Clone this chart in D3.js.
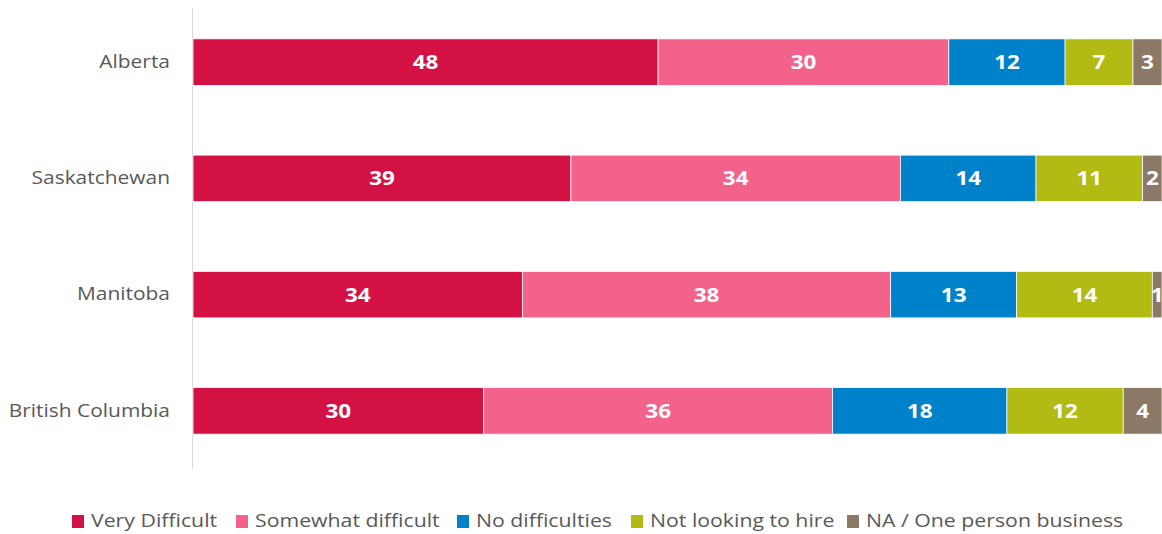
<!DOCTYPE html>
<html>
<head>
<meta charset="utf-8">
<script src="https://cdn.jsdelivr.net/npm/d3@7"></script>
<style>
  html, body { margin: 0; padding: 0; background: #fff; overflow: hidden; }
  svg { display: block; font-family: "Open Sans", Lato, sans-serif; }
</style>
</head>
<body>
<svg id="chart" width="1162" height="534"></svg>
<script>
// Hiring difficulty by province (percent of respondents)
const provinces = ["Alberta", "Saskatchewan", "Manitoba", "British Columbia"];
const seriesNames = ["Very Difficult", "Somewhat difficult", "No difficulties", "Not looking to hire", "NA / One person business"];
const veryDifficult = [48, 39, 34, 30];
const somewhatDifficult = [30, 34, 38, 36];
const noDifficulties = [12, 14, 13, 18];
const notLooking = [7, 11, 14, 12];
const naOnePerson = [3, 2, 1, 4];
const colors = ["#D31145", "#F2628A", "#0082CA", "#B2BA14", "#8B7867"];

const seriesValues = [veryDifficult, somewhatDifficult, noDifficulties, notLooking, naOnePerson];
const rows = provinces.map((p, i) => {
  const r = { province: p };
  seriesNames.forEach((s, k) => r[s] = seriesValues[k][i]);
  return r;
});

const svg = d3.select("#chart");
const W = 1162, H = 534;
const plot = { left: 193, right: W, top: 4, bottom: 469 };
const widen = 1.15;   // horizontal stretch applied to all text

const x = d3.scaleLinear().domain([0, 100]).range([plot.left, plot.right]);
const y = d3.scaleBand().domain(provinces).range([plot.top, plot.bottom]).paddingInner(0.6).paddingOuter(0.3);

const stacked = d3.stack().keys(seriesNames)(rows);

// vertical category axis line
svg.append("line")
  .attr("x1", plot.left - 0.5).attr("x2", plot.left - 0.5)
  .attr("y1", 8).attr("y2", plot.bottom)
  .attr("stroke", "#d9d9d9").attr("stroke-width", 1);

const layers = svg.append("g").selectAll("g")
  .data(stacked).join("g")
  .attr("fill", (d, i) => colors[i]);

layers.selectAll("rect")
  .data(d => d).join("rect")
  .attr("x", d => x(d[0]))
  .attr("y", d => y(d.data.province))
  .attr("width", d => x(d[1]) - x(d[0]))
  .attr("height", y.bandwidth())
  .attr("stroke", "#fff")
  .attr("stroke-width", 0.75);

layers.selectAll("text")
  .data(d => d.map(v => Object.assign(v, { key: d.key }))).join("text")
  .attr("transform", d => `translate(${(x(d[0]) + x(d[1])) / 2},${y(d.data.province) + y.bandwidth() / 2}) scale(${widen},1)`)
  .attr("dy", "0.36em")
  .attr("text-anchor", "middle")
  .attr("fill", "#fff")
  .attr("font-weight", "bold")
  .attr("font-size", 19.5)
  .text(d => d.data[d.key]);

// category labels
svg.append("g").selectAll("text")
  .data(provinces).join("text")
  .attr("transform", d => `translate(170,${y(d) + y.bandwidth() / 2}) scale(${widen},1)`)
  .attr("dy", "0.32em")
  .attr("text-anchor", "end")
  .attr("font-size", 18.2)
  .attr("fill", "#595959")
  .text(d => d);

// legend
const legendTextX = [91, 255, 476, 650, 866];
const legend = svg.append("g");
seriesNames.forEach((s, i) => {
  const g = legend.append("g").attr("transform", `translate(${legendTextX[i]},521)`);
  g.append("rect").attr("x", -19).attr("y", -6).attr("width", 12).attr("height", 13).attr("fill", colors[i]);
  g.append("text").attr("transform", `scale(${widen},1)`).attr("dy", "0.35em")
    .attr("font-size", 18.5).attr("fill", "#595959").text(s);
});
</script>
</body>
</html>
